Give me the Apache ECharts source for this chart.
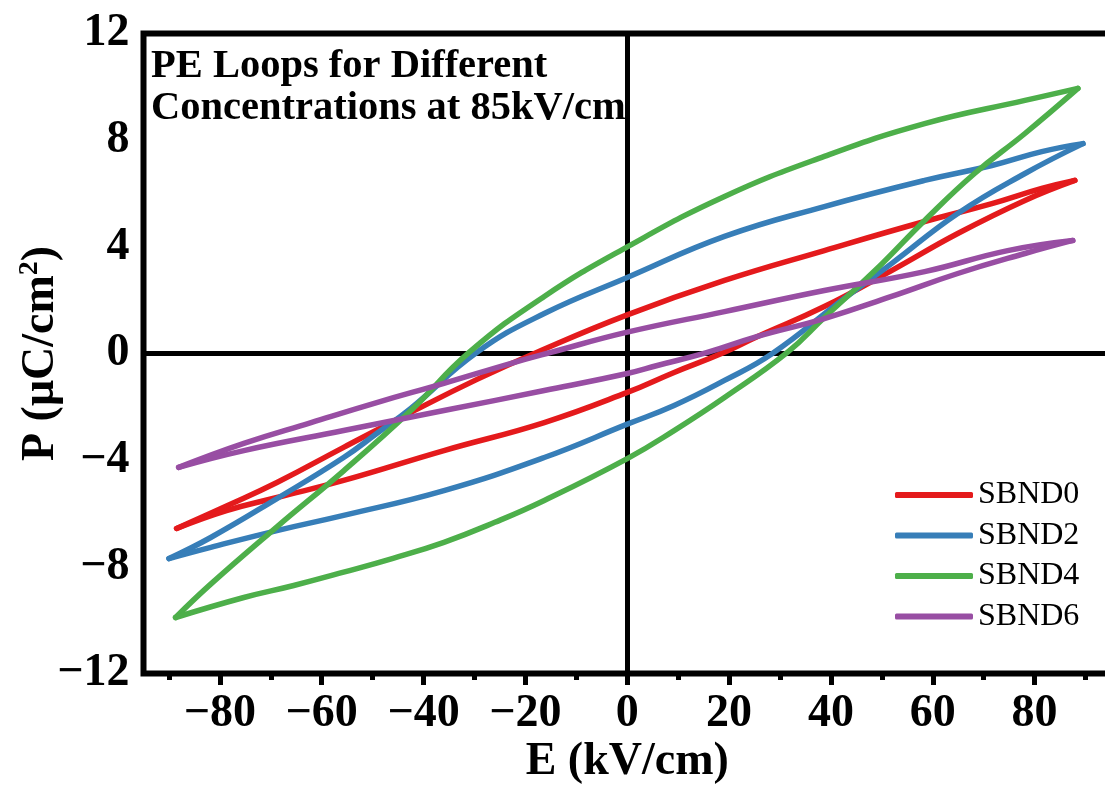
<!DOCTYPE html>
<html>
<head>
<meta charset="utf-8">
<script src="https://cdn.jsdelivr.net/npm/echarts@6/dist/echarts.min.js"></script>
<style>
html,body{margin:0;padding:0;background:#fff;}
#chart{width:1105px;height:805px;}
</style>
</head>
<body>
<div id="chart"></div>
<script>
// ---- data (E in kV/cm, P in µC/cm²) ----
const seriesNames = ['SBND0', 'SBND2', 'SBND4', 'SBND6'];
const seriesColors = ['#e41a1c', '#377eb8', '#4daf4a', '#984ea3'];

// descending branches (from +Emax to -Emax)
const sbnd0Upper = [[87.9,6.49],[81.4,6.19],[71.6,5.62],[58.4,4.95],[38.7,3.86],[19.1,2.74],[0,1.45],[-17.7,0.05],[-29.5,-0.97],[-42.5,-2.21],[-55.7,-3.52],[-68.8,-4.84],[-78.7,-5.72],[-88.5,-6.56]];
const sbnd2Upper = [[89.5,7.87],[81.4,7.57],[71.6,7.05],[58.4,6.49],[38.7,5.51],[19.1,4.39],[0,2.85],[-16.3,1.5],[-29.5,0.05],[-42.5,-2.06],[-49.2,-3.0],[-55.7,-3.9],[-68.8,-5.44],[-81.8,-6.9],[-90,-7.69]];
const sbnd4Upper = [[88.5,9.94],[78.1,9.49],[58.4,8.62],[38.7,7.39],[19.1,5.89],[0,4.0],[-16.3,2.14],[-31,0.05],[-42.5,-2.14],[-55.7,-4.4],[-68.8,-6.5],[-81.8,-8.65],[-88.7,-9.9]];
const sbnd6Upper = [[87.5,4.24],[74.7,3.86],[58.4,3.07],[38.7,2.36],[19.1,1.57],[0,0.8],[-15,0.04],[-22.8,-0.37],[-36,-1.12],[-49.2,-1.84],[-62.1,-2.59],[-75.3,-3.37],[-88.1,-4.27]];

// ascending branches (from -Emax to +Emax)
const sbnd0Lower = [[-88.5,-6.56],[-78.7,-5.89],[-68.8,-5.4],[-55.7,-4.76],[-36,-3.64],[-16.3,-2.59],[0,-1.46],[9.2,-0.71],[18.5,0],[25.6,0.64],[38.7,1.76],[51.9,3.11],[64.9,4.5],[78.1,5.74],[87.9,6.49]];
const sbnd2Lower = [[-90,-7.69],[-81.8,-7.27],[-68.8,-6.64],[-55.7,-6.07],[-36,-5.14],[-16.3,-3.9],[0,-2.65],[9.2,-1.95],[19.1,-1.01],[28.5,0],[42.1,1.99],[51.9,3.37],[64.9,5.25],[78.1,6.75],[89.5,7.87]];
const sbnd4Lower = [[-88.7,-9.9],[-75.3,-9.15],[-65.5,-8.7],[-55.7,-8.2],[-46,-7.68],[-36,-7.08],[-26,-6.33],[-16.3,-5.51],[0,-3.94],[9.2,-2.89],[19.1,-1.65],[31.5,0.05],[38.7,1.35],[48.6,3.1],[58.4,4.99],[68.2,6.75],[78.1,8.25],[88.5,9.94]];
const sbnd6Lower = [[-88.1,-4.27],[-75.3,-3.64],[-55.7,-2.89],[-36,-2.14],[-16.3,-1.39],[0,-0.75],[5.9,-0.45],[15.4,0.02],[25.6,0.64],[38.7,1.31],[51.9,2.14],[64.9,3.0],[78.1,3.75],[87.5,4.24]];

const upperBranches = [sbnd0Upper, sbnd2Upper, sbnd4Upper, sbnd6Upper];
const lowerBranches = [sbnd0Lower, sbnd2Lower, sbnd4Lower, sbnd6Lower];

const xMajorTicks = [-80, -60, -40, -20, 0, 20, 40, 60, 80];
const xMinorTicks = [-90, -70, -50, -30, -10, 10, 30, 50, 70, 90];
const xRange = [-95, 95];
const yRange = [-12, 12];
const yInterval = 4;

const titleText = 'PE Loops for Different\nConcentrations at 85kV/cm';
const xName = 'E (kV/cm)';

// ---- chart ----
const FONT = '"Liberation Serif", "Times New Roman", serif';
const minusFmt = v => String(v).replace('-', '\u2212');

const series = [];
seriesNames.forEach((name, i) => {
  [upperBranches[i], lowerBranches[i]].forEach(branch => {
    series.push({
      name: name,
      type: 'line',
      xAxisIndex: 0,
      yAxisIndex: 0,
      data: branch,
      showSymbol: false,
      symbol: 'none',
      smooth: 0.45,
      z: 3,
      color: seriesColors[i],
      lineStyle: { width: 5.5, color: seriesColors[i], cap: 'round', join: 'round' },
      emphasis: { disabled: true },
      silent: true
    });
  });
});

const chart = echarts.init(document.getElementById('chart'), null, { renderer: 'canvas' });
chart.setOption({
  animation: false,
  backgroundColor: '#fff',
  title: {
    text: titleText,
    left: 151,
    top: 46,
    padding: 0,
    textStyle: { fontFamily: FONT, fontWeight: 'bold', fontSize: 40.5, lineHeight: 42, color: '#000' }
  },
  legend: {
    data: seriesNames,
    orient: 'vertical',
    left: 895,
    top: 478,
    padding: 0,
    itemWidth: 78,
    itemHeight: 6,
    itemGap: 6.5,
    icon: 'roundRect',
    textStyle: { fontFamily: FONT, fontSize: 32, lineHeight: 34, color: '#000' },
    selectedMode: false
  },
  grid: {
    left: 143.5,
    top: 33.5,
    right: -6,
    bottom: 131.5,
    show: true,
    borderColor: '#000',
    borderWidth: 6,
    backgroundColor: 'transparent',
    containLabel: false,
    outerBoundsMode: 'none'
  },
  xAxis: [
    {
      type: 'value', min: xRange[0], max: xRange[1], position: 'bottom',
      name: xName, nameLocation: 'middle', nameGap: 66, nameMoveOverlap: false,
      nameTextStyle: { fontFamily: FONT, fontWeight: 'bold', fontSize: 46, color: '#000' },
      axisLine: { show: false, onZero: false },
      axisTick: { show: true, customValues: xMajorTicks, length: 11.5, inside: false, lineStyle: { color: '#000', width: 5 } },
      axisLabel: { show: true, customValues: xMajorTicks, margin: 18, formatter: minusFmt,
        fontFamily: FONT, fontWeight: 'bold', fontSize: 46, color: '#000' },
      splitLine: { show: false }
    },
    {
      type: 'value', min: xRange[0], max: xRange[1], position: 'bottom',
      axisLine: { show: false, onZero: false },
      axisTick: { show: true, customValues: xMinorTicks, length: 6.5, lineStyle: { color: '#000', width: 5 } },
      axisLabel: { show: false },
      splitLine: { show: false }
    },
    {
      type: 'value', min: xRange[0], max: xRange[1], position: 'bottom',
      axisLine: { show: true, onZero: true, lineStyle: { color: '#000', width: 5 } },
      axisTick: { show: false },
      axisLabel: { show: false },
      splitLine: { show: false }
    }
  ],
  yAxis: [
    {
      type: 'value', min: yRange[0], max: yRange[1], interval: yInterval, position: 'left',
      name: 'P (\u03bcC/cm{sup|2})', nameLocation: 'middle', nameGap: 76, nameRotate: 90, nameMoveOverlap: false,
      nameTextStyle: { fontFamily: FONT, fontWeight: 'bold', fontSize: 46, color: '#000', lineHeight: 52,
        rich: { sup: { fontFamily: FONT, fontWeight: 'bold', fontSize: 28, color: '#000', verticalAlign: 'top', lineHeight: 52, padding: [0, 0, 14, 0] } } },
      axisLine: { show: false, onZero: false },
      axisTick: { show: false },
      axisLabel: { show: true, margin: 14, formatter: minusFmt,
        fontFamily: FONT, fontWeight: 'bold', fontSize: 46, color: '#000' },
      splitLine: { show: false }
    },
    {
      type: 'value', min: yRange[0], max: yRange[1], interval: yInterval, position: 'left',
      axisLine: { show: true, onZero: true, lineStyle: { color: '#000', width: 5 } },
      axisTick: { show: false },
      axisLabel: { show: false },
      splitLine: { show: false }
    }
  ],
  series: series
});
</script>
</body>
</html>
